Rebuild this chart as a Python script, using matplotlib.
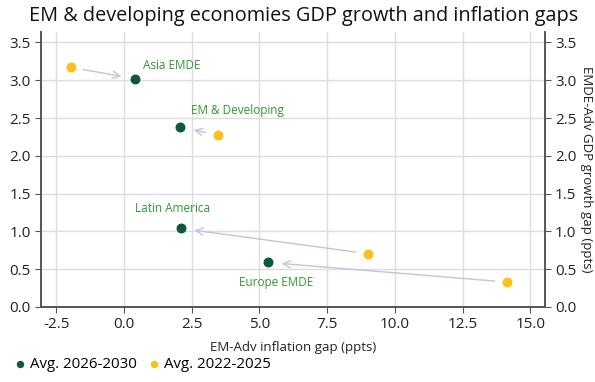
import matplotlib
matplotlib.use("Agg")
import matplotlib.pyplot as plt

plt.rcParams['font.family'] = ['Open Sans', 'DejaVu Sans']

regions = ["Asia EMDE", "EM & Developing", "Latin America", "Europe EMDE"]
infl_2026 = [0.41, 2.08, 2.09, 5.31]
gdp_2026 = [3.02, 2.385, 1.04, 0.59]
infl_2022 = [-1.95, 3.47, 9.02, 14.14]
gdp_2022 = [3.17, 2.27, 0.705, 0.33]
series_labels = ["Avg. 2026-2030", "Avg. 2022-2025"]
yticks = [0, 0.5, 1.0, 1.5, 2.0, 2.5, 3.0, 3.5]
xticks = [-2.5, 0, 2.5, 5, 7.5, 10, 12.5, 15]

GREEN = "#0b5c36"
YELLOW = "#fbc11b"
ARROW = "#c9bfdf"
LABEL = "#2e9a2e"
SPINE = "#555555"
TXT = "#222222"

fig = plt.figure(figsize=(5.95, 3.82), dpi=100)
ax = fig.add_axes([41/595, 1-307/382, (544.5-41)/595, (307-31.5)/382])

ax.set_xlim(-3.06, 15.52)
ax.set_ylim(0, 3.645)
ax.set_xticks(xticks)
ax.set_yticks(yticks)
fmt = matplotlib.ticker.FormatStrFormatter('%.1f')
ax.xaxis.set_major_formatter(fmt)
ax.yaxis.set_major_formatter(fmt)
ax.grid(True, color="#dddddd", linewidth=1)
ax.set_axisbelow(True)

ax2 = ax.twinx()
ax2.set_ylim(ax.get_ylim())
ax2.set_yticks(yticks)
ax2.yaxis.set_major_formatter(fmt)

for a in (ax, ax2):
    a.spines["top"].set_visible(False)
    for s in ["left", "right", "bottom"]:
        a.spines[s].set_color(SPINE)
        a.spines[s].set_linewidth(1.2)
    a.tick_params(axis='both', colors=SPINE, labelcolor=TXT, labelsize=11, length=4)

for x0, y0, x1, y1 in zip(infl_2022, gdp_2022, infl_2026, gdp_2026):
    ax.annotate("", xy=(x1, y1), xytext=(x0, y0),
                arrowprops=dict(arrowstyle="->", color=ARROW, lw=1.0,
                                shrinkA=9, shrinkB=10, mutation_scale=13))

ax.scatter(infl_2026, gdp_2026, s=38, color=GREEN, zorder=3, label=series_labels[0])
ax.scatter(infl_2022, gdp_2022, s=38, color=YELLOW, zorder=3, label=series_labels[1])

offsets = [(6, 5, 'left', 'bottom'), (8, 7, 'left', 'bottom'),
           (-6, 10, 'center', 'bottom'), (6, -10, 'center', 'top')]
for name, x, y, (dx, dy, ha, va) in zip(regions, infl_2026, gdp_2026, offsets):
    ax.annotate(name, xy=(x, y), xytext=(dx, dy), textcoords='offset points',
                ha=ha, va=va, color=LABEL, fontsize=8.5)

ax.set_xlabel("EM-Adv inflation gap (ppts)", fontsize=9.5, color=TXT, labelpad=6)
ax2.set_ylabel("EMDE-Adv GDP growth gap (ppts)", rotation=270, fontsize=9.5,
               color=TXT, labelpad=12)

fig.suptitle("EM & developing economies GDP growth and inflation gaps",
             x=0.51, y=0.985, fontsize=14.3, color="#111111")

fig.legend(loc='lower left', bbox_to_anchor=(0.0, 0.0), ncol=2, frameon=False,
           fontsize=10.8, handletextpad=0.0, columnspacing=0.5, markerscale=0.7,
           handlelength=1.3, borderaxespad=0.3)

fig.savefig("out.png", dpi=100)
